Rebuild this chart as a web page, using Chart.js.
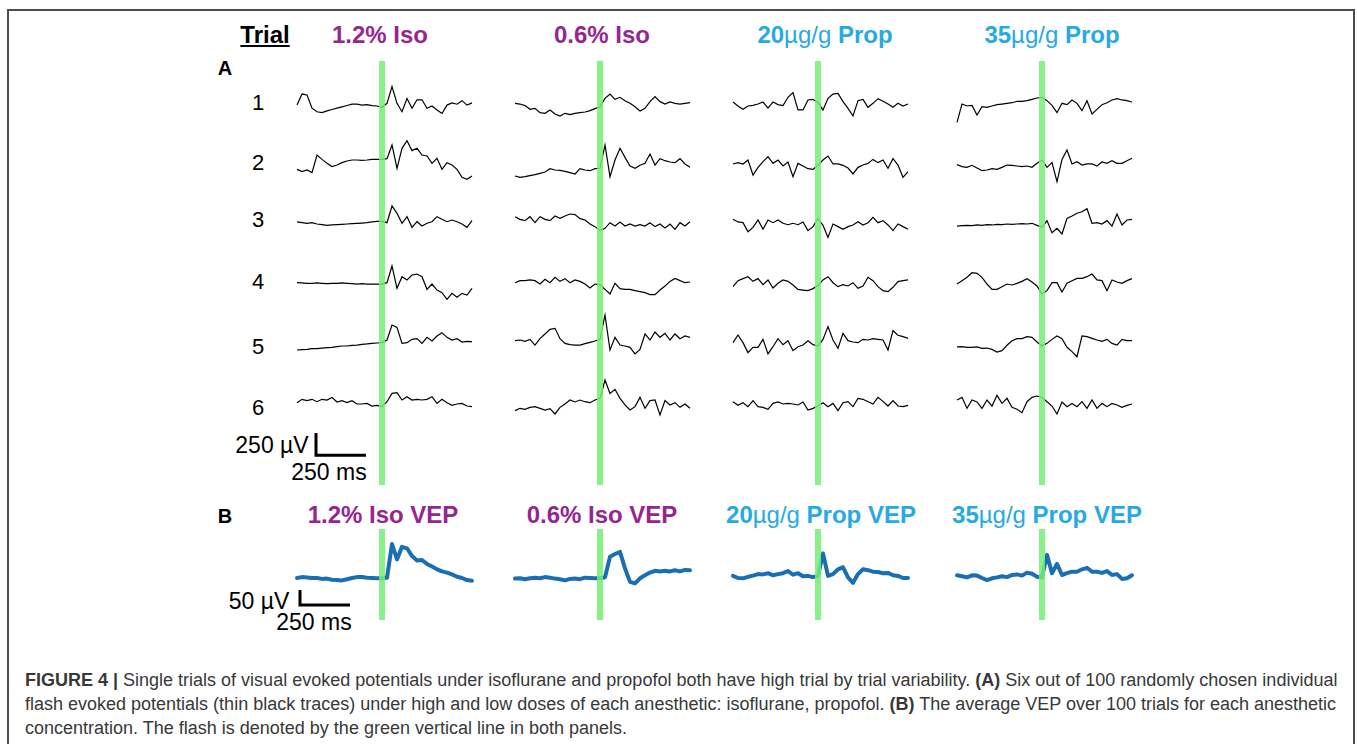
<!DOCTYPE html>
<html>
<head>
<meta charset="utf-8">
<title>Figure 4 - single trial VEPs</title>
<script src="https://cdn.jsdelivr.net/npm/chart.js@4.4.0/dist/chart.umd.min.js"></script>
<style>
  html, body { margin: 0; padding: 0; background: #fff; }
  body { width: 1357px; height: 744px; position: relative; overflow: hidden; font-family: "Liberation Sans", Arial, sans-serif; }
  #frame { position: absolute; left: 7px; top: 9px; width: 1344px; height: 780px; border: 2px solid #4d4d4d; border-bottom: none; }
  .lbl { position: absolute; white-space: nowrap; transform: translate(-50%, -50%); line-height: 1; color: #000; }
  .iso { color: #93278f; font-weight: bold; font-size: 24px; }
  .prop { color: #27aae1; font-weight: bold; font-size: 24px; }
  .prop .u { font-weight: normal; }
  .cap { position: absolute; left: 25px; transform: translateY(-50%); line-height: 1; font-size: 18px; color: #383838; white-space: nowrap; }
  canvas { position: absolute; }
</style>
</head>
<body>
<div id="frame"></div>
<div id="labels"></div>

<div class="cap" style="top:680px"><b>FIGURE 4 |</b> Single trials of visual evoked potentials under isoflurane and propofol both have high trial by trial variability. <b>(A)</b> Six out of 100 randomly chosen individual</div>
<div class="cap" style="top:704px">flash evoked potentials (thin black traces) under high and low doses of each anesthetic: isoflurane, propofol. <b>(B)</b> The average VEP over 100 trials for each anesthetic</div>
<div class="cap" style="top:728px">concentration. The flash is denoted by the green vertical line in both panels.</div>

<script>
// time of each sample relative to the flash (ms)
var times = [-425,-400,-375,-350,-325,-300,-275,-250,-225,-200,-175,-150,-125,-100,-75,-50,-25,0,
             25,50,75,100,125,150,175,200,225,250,275,300,325,350,375,400,425,450];

var conditions = ['1.2% Iso', '0.6% Iso', '20µg/g Prop', '35µg/g Prop'];
var conditionKind = ['iso', 'iso', 'prop', 'prop'];
var trialLabels = ['1', '2', '3', '4', '5', '6'];

// single trials (uV), 6 per condition
var iso12Trials = [
  [-35,90,80,-70,-110,-120,-100,-85,-70,-55,-40,-25,-25,-35,-30,-40,-45,-60,-15,175,-15,-110,40,-70,25,25,-70,-45,-90,-130,-35,-10,-25,15,-35,-10],
  [-72,-98,-79,-109,90,41,-4,-41,-23,4,23,34,34,30,34,41,41,41,49,204,-60,166,253,140,166,90,79,-4,53,-72,4,-23,-72,-162,-185,-147],
  [23,15,8,15,0,-8,-15,-11,-8,-4,0,4,8,11,15,23,30,30,15,204,121,8,83,-38,26,-23,8,26,83,53,26,45,26,0,-38,38],
  [26,23,19,19,23,19,15,19,19,23,19,15,11,15,11,11,11,11,26,215,-38,94,57,113,124,94,-49,11,-57,-87,-162,-94,-139,-94,-113,-38],
  [-45,-41,-38,-30,-30,-23,-19,-15,-8,0,0,8,11,19,23,30,34,38,68,237,211,30,38,75,83,30,98,57,113,151,98,68,83,45,53,49],
  [49,87,72,87,60,87,79,109,57,72,49,72,34,34,41,11,19,4,60,154,162,79,117,79,87,79,87,117,41,87,49,19,34,41,11,4]
];
var iso06Trials = [
  [-15,-23,-41,-83,-72,-121,-128,-90,-136,-158,-128,-143,-128,-121,-113,-98,-75,-53,41,90,30,53,15,-15,-53,-102,-72,4,60,4,-23,0,-15,-23,-15,-8],
  [-147,-162,-155,-143,-132,-117,-102,-64,-79,-83,-94,-109,-124,-64,-79,-87,-64,-60,204,-155,34,166,64,-34,-60,-26,-4,102,-23,49,26,11,4,49,-11,-49],
  [83,53,38,83,15,83,53,38,90,64,90,113,106,60,45,0,-30,-75,-49,15,-23,23,-23,0,-23,-8,-23,15,-30,0,-45,0,-60,15,-23,26],
  [26,49,49,57,49,11,64,26,87,41,72,26,57,41,11,-34,11,4,-49,-102,19,-41,-49,-49,-64,-75,-87,-109,-109,-57,-11,41,75,49,26,34],
  [60,68,53,75,11,83,136,189,200,83,30,15,11,11,26,41,57,75,351,-45,98,11,0,-15,-90,-38,136,68,158,98,143,68,136,83,113,98],
  [-41,-15,-26,-4,4,-15,-34,-19,-79,-4,34,79,57,79,60,49,79,98,305,154,200,98,23,-34,4,109,-15,72,79,-90,72,23,49,-4,34,-15]
];
var prop20Trials = [
  [0,-45,-83,-45,-38,-23,0,-68,0,-30,-41,53,106,-90,-90,23,30,-8,-90,41,90,98,4,-72,-158,15,30,-60,-15,38,8,-23,-60,-15,-45,-23],
  [-11,4,-11,34,-136,-49,15,72,-4,34,-34,11,-155,-4,-34,-64,-72,-23,34,79,-11,-11,-26,-57,-124,-49,-23,-4,41,4,34,-60,49,-23,-162,-98],
  [53,23,15,-87,-38,45,-60,45,15,45,8,-8,8,-8,23,-75,-30,60,-15,-151,0,-30,-60,-30,-11,26,-11,15,75,15,38,-11,-75,0,-30,-60],
  [-19,49,72,94,41,72,4,57,-34,19,57,41,0,-49,-57,-64,-41,-4,57,94,26,-19,4,-11,26,-38,-11,87,49,-19,-64,-75,-26,38,49,57],
  [38,124,38,-75,-15,-15,75,-90,-8,83,15,60,-53,-8,11,60,15,0,75,219,68,-26,143,60,45,38,75,68,83,75,68,-45,173,121,106,87],
  [60,19,49,4,72,4,-4,-26,41,57,34,41,34,23,57,-34,-15,11,49,4,41,-41,49,60,4,98,87,60,34,109,64,11,72,11,4,19]
];
var prop35Trials = [
  [-230,-23,-45,-38,-147,-53,-60,-45,-30,-23,-15,-8,8,8,15,30,45,53,15,-38,-121,-15,-30,23,-15,-98,15,-136,-83,-30,-8,23,38,23,15,0],
  [-19,-41,-49,-26,-57,-87,-79,-64,-72,-49,-23,-26,-34,-41,-34,-49,-4,34,-49,4,-211,41,147,-11,15,-23,-11,-11,-34,11,-4,26,-4,-4,26,53],
  [-23,-19,-15,-19,-11,-15,-8,-11,-4,-8,0,-4,0,4,0,8,-15,-38,38,-98,-49,-113,64,90,121,139,173,8,15,0,38,-23,113,-11,45,53],
  [11,49,87,139,132,87,11,-49,-49,-19,11,0,19,41,72,34,-11,-102,-64,26,26,-79,19,49,75,75,94,124,57,49,-64,57,34,19,49,72],
  [-11,-8,-15,-15,-11,-26,-23,-38,-68,-53,8,60,83,83,106,98,45,0,30,75,113,83,-15,-64,-121,113,106,87,68,53,75,30,11,75,60,60],
  [79,109,-15,79,57,-15,79,11,132,41,98,-4,-26,-64,60,109,124,109,60,11,-79,57,4,41,4,60,-15,79,-15,41,4,41,23,-4,19,34]
];

// averages over 100 trials (uV)
var iso12Vep  = [0,3,2,0,0,-3,-2,-6,-7,-8,-4,0,3,3,1,0,-1,-1,1,113,62,104,99,73,58,60,47,38,29,22,18,12,4,0,-7,-9];
var iso06Vep  = [-2,-1,-4,-1,1,-1,3,1,-2,-4,-8,-3,-2,-4,1,0,-1,-1,2,71,80,87,32,-13,-18,-1,9,18,24,22,24,22,26,22,27,26];
var prop20Vep = [7,0,-1,4,8,13,12,16,9,13,16,23,11,16,6,7,3,7,82,7,13,29,36,2,-16,13,29,26,21,20,16,17,9,7,0,0];
var prop35Vep = [9,6,2,9,8,0,-7,-1,2,6,3,10,12,8,18,14,4,2,77,16,47,10,16,21,21,29,34,21,21,17,23,10,13,-3,-1,9];

var allTrials = [iso12Trials, iso06Trials, prop20Trials, prop35Trials];
var allVeps = [iso12Vep, iso06Vep, prop20Vep, prop35Vep];

// page layout
var flashX = [382, 600, 818, 1042];
var rowLabelY = [103, 163, 220, 282, 347, 408];

function addLabel(html, x, y, cls, style) {
    var d = document.createElement('div');
    d.className = 'lbl ' + (cls || '');
    d.style.left = x + 'px';
    d.style.top = y + 'px';
    if (style) d.style.cssText += style;
    d.innerHTML = html;
    document.getElementById('labels').appendChild(d);
}

function titleHtml(txt) {
    return txt.replace('µg/g', '<span class="u">µg/g</span>');
}

addLabel('Trial', 265, 35, '', 'font-weight:bold;font-size:24px;text-decoration:underline;');
addLabel('A', 225, 68, '', 'font-weight:bold;font-size:20px;');
addLabel('B', 225, 516, '', 'font-weight:bold;font-size:20px;');
var titleXA = [380, 602, 825, 1052];
var titleXB = [383, 602, 821, 1047];
for (var c = 0; c < conditions.length; c++) {
    addLabel(titleHtml(conditions[c]), titleXA[c], 35, conditionKind[c]);
    addLabel(titleHtml(conditions[c]) + ' VEP', titleXB[c], 515, conditionKind[c]);
}
for (var r = 0; r < trialLabels.length; r++) {
    addLabel(trialLabels[r], 258, rowLabelY[r], '', 'font-size:22px;');
}
addLabel('250 µV', 272, 445, '', 'font-size:23px;');
addLabel('250 ms', 329, 472, '', 'font-size:23px;');
addLabel('50 µV', 259, 601, '', 'font-size:23px;');
addLabel('250 ms', 314, 622, '', 'font-size:23px;');

// green flash marker, drawn over the traces
var flashLine = {
    id: 'flashLine',
    afterDatasetsDraw: function(chart) {
        var ctx = chart.ctx;
        var x = chart.scales.x.getPixelForValue(0);
        ctx.save();
        ctx.strokeStyle = 'rgba(115,240,115,0.85)';
        ctx.lineWidth = 6;
        ctx.beginPath();
        ctx.moveTo(x, 0);
        ctx.lineTo(x, chart.height);
        ctx.stroke();
        ctx.restore();
    }
};

// L shaped calibration bar
var scaleBar = {
    id: 'scaleBar',
    afterDraw: function(chart, args, opts) {
        if (!opts || !opts.axis) return;
        var xs = chart.scales.x, ys = chart.scales[opts.axis];
        var x0 = xs.getPixelForValue(opts.t), x1 = xs.getPixelForValue(opts.t + opts.dt);
        var y0 = ys.getPixelForValue(opts.v), y1 = ys.getPixelForValue(opts.v + opts.dv);
        var ctx = chart.ctx;
        ctx.save();
        ctx.strokeStyle = '#000';
        ctx.lineWidth = 3;
        ctx.lineJoin = 'miter';
        ctx.beginPath();
        ctx.moveTo(x0, y1);
        ctx.lineTo(x0, y0);
        ctx.lineTo(x1, y0);
        ctx.stroke();
        ctx.restore();
    }
};

function makeCanvas(left, top, w, h) {
    var cv = document.createElement('canvas');
    cv.width = w; cv.height = h;
    cv.style.left = left + 'px';
    cv.style.top = top + 'px';
    document.body.appendChild(cv);
    return cv;
}

function baseOptions(scales, padding, bar) {
    return {
        responsive: false,
        animation: false,
        devicePixelRatio: 1,
        layout: { padding: padding },
        scales: scales,
        elements: { point: { radius: 0 }, line: { tension: 0 } },
        plugins: { legend: { display: false }, tooltip: { enabled: false }, scaleBar: bar || {} }
    };
}

// panel A: one chart per condition, each trial on its own stacked y axis
for (var c = 0; c < allTrials.length; c++) {
    var trials = allTrials[c];
    var cv = makeCanvas(flashX[c] - 97, 61, 195, 424);
    var scales = { x: { type: 'linear', min: -435, max: 440, display: false } };
    // added bottom first so trial 1 lands on top of the stack
    for (var r = trials.length; r >= 1; r--) {
        scales['trial' + r] = { type: 'linear', min: -345, max: 345, display: false, stack: 'rows', position: 'left' };
    }
    var datasets = trials.map(function(vals, i) {
        return {
            data: times.map(function(t, k) { return { x: t, y: vals[k] }; }),
            yAxisID: 'trial' + (i + 1),
            borderColor: '#000',
            borderWidth: 1.2,
            clip: false
        };
    });
    var bar = c === 0 ? { axis: 'trial6', t: -330, v: -545, dt: 250, dv: 250 } : null;
    new Chart(cv, {
        type: 'line',
        data: { datasets: datasets },
        options: baseOptions(scales, { left: 10, right: 10, top: 10.5, bottom: 47.5 }, bar),
        plugins: [flashLine, scaleBar]
    });
}

// panel B: averaged VEPs
for (var c = 0; c < allVeps.length; c++) {
    var vep = allVeps[c];
    var cvB = makeCanvas(flashX[c] - 97, 529, 195, 91);
    var barB = c === 0 ? { axis: 'y', t: -410, v: -90, dt: 250, dv: 50 } : null;
    new Chart(cvB, {
        type: 'line',
        data: { datasets: [{
            data: times.map(function(t, k) { return { x: t, y: vep[k] }; }),
            borderColor: '#1a6eb4',
            borderWidth: 4,
            borderJoinStyle: 'round',
            borderCapStyle: 'round',
            clip: false
        }] },
        options: baseOptions({
            x: { type: 'linear', min: -435, max: 440, display: false },
            y: { type: 'linear', min: -140, max: 163.3, display: false }
        }, { left: 10, right: 10, top: 0, bottom: 0 }, barB),
        plugins: [flashLine, scaleBar]
    });
}
</script>
</body>
</html>
